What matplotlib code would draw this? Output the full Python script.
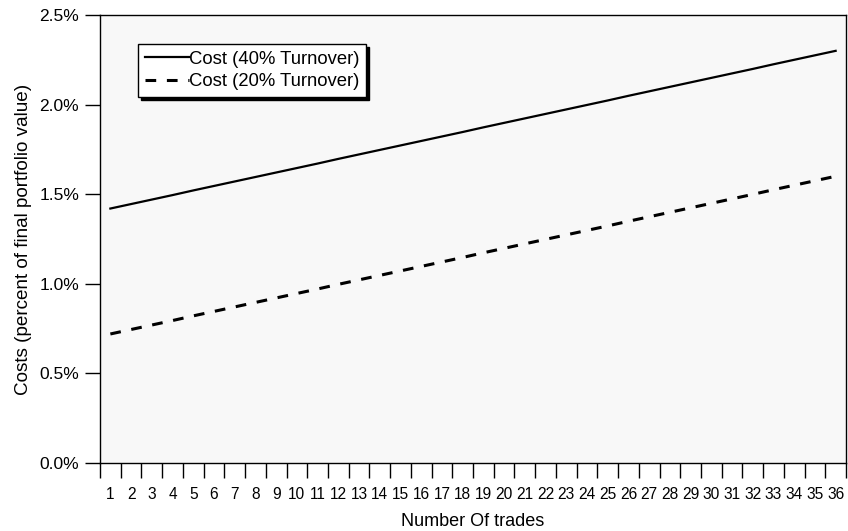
import matplotlib.pyplot as plt
from matplotlib.ticker import FixedLocator, FuncFormatter

plt.rcParams['font.family'] = ['Liberation Sans', 'DejaVu Sans']

trades = list(range(1, 37))

cost_40 = [1.420, 1.445, 1.470, 1.495, 1.521, 1.546, 1.571, 1.596, 1.621, 1.646, 1.671, 1.697,
           1.722, 1.747, 1.772, 1.797, 1.822, 1.847, 1.873, 1.898, 1.923, 1.948, 1.973, 1.998,
           2.023, 2.049, 2.074, 2.099, 2.124, 2.149, 2.174, 2.199, 2.225, 2.250, 2.275, 2.300]

cost_20 = [0.720, 0.745, 0.770, 0.795, 0.821, 0.846, 0.871, 0.896, 0.921, 0.946, 0.971, 0.997,
           1.022, 1.047, 1.072, 1.097, 1.122, 1.147, 1.173, 1.198, 1.223, 1.248, 1.273, 1.298,
           1.323, 1.349, 1.374, 1.399, 1.424, 1.449, 1.474, 1.499, 1.525, 1.550, 1.575, 1.600]

y_ticks = [0.0, 0.5, 1.0, 1.5, 2.0, 2.5]

fig = plt.figure(figsize=(8.48, 5.31), dpi=100)
ax = fig.add_axes([100 / 848, 1 - 463 / 531, 746 / 848, 448 / 531])
ax.set_facecolor('#f8f8f8')

ax.plot(trades, cost_40, color='black', lw=1.6, label='Cost (40% Turnover)')
ax.plot(trades, cost_20, color='black', lw=2.2, dashes=(3.5, 3.5), label='Cost (20% Turnover)')

ax.set_xlim(0.5, 36.5)
ax.set_ylim(0, 2.5)

# category axis: ticks between categories, labels centered
ax.xaxis.set_major_locator(FixedLocator([t - 0.5 for t in trades] + [36.5]))
ax.xaxis.set_major_formatter(FuncFormatter(lambda v, p: ''))
ax.xaxis.set_minor_locator(FixedLocator(trades))
ax.xaxis.set_minor_formatter(FuncFormatter(lambda v, p: str(int(round(v)))))
ax.tick_params(axis='x', which='major', direction='out', length=11, width=1)
ax.tick_params(axis='x', which='minor', length=0, pad=17, labelsize=11.2)

ax.set_yticks(y_ticks)
ax.yaxis.set_major_formatter(FuncFormatter(lambda v, p: f"{v:.1f}%"))
ax.tick_params(axis='y', direction='out', length=11, width=1, labelsize=12.5, pad=4)

for s in ax.spines.values():
    s.set_linewidth(1)
    s.set_color('black')

ax.set_xlabel('Number Of trades', fontsize=13, labelpad=8)
ax.set_ylabel('Costs (percent of final portfolio value)', fontsize=13.6, labelpad=5)

leg = ax.legend(loc='upper left', bbox_to_anchor=(0.051, 0.935), fontsize=13.3,
                frameon=True, fancybox=False, shadow={'color': 'black', 'alpha': 1},
                handlelength=2.4, handletextpad=0.0, borderpad=0.35, labelspacing=0.32,
                borderaxespad=0)
leg.get_frame().set_edgecolor('black')
leg.get_frame().set_linewidth(1)
leg.get_frame().set_facecolor('white')

fig.savefig('out.png', dpi=100)
